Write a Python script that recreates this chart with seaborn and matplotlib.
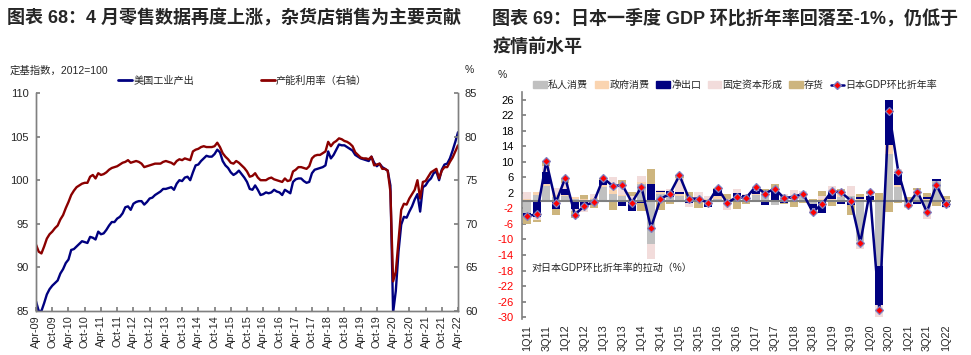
import numpy as np
import matplotlib
matplotlib.use("Agg")
import matplotlib.pyplot as plt
from matplotlib.lines import Line2D
from matplotlib.patches import Patch
import seaborn as sns

# ---- 图表68: US industrial production (left axis) & capacity utilisation (right axis), Apr-09 .. Apr-22
ip_index = [
    86.1, 85.0, 85.0, 85.9, 86.9, 87.5, 87.9, 88.2, 88.5,                      # 2009 Apr-Dec
    89.3, 89.8, 90.5, 90.9, 92.0, 92.1, 92.4, 92.7, 93.0, 92.9, 92.8, 93.5,    # 2010
    93.4, 93.2, 94.1, 93.8, 93.9, 94.3, 94.8, 95.2, 95.2, 95.6, 95.8, 96.2,    # 2011
    96.9, 97.0, 96.6, 97.3, 97.5, 97.6, 97.6, 97.2, 97.5, 97.9, 98.0, 98.3,    # 2012
    98.5, 98.7, 99.0, 99.0, 99.1, 99.2, 98.9, 99.6, 100.0, 99.9, 100.3, 100.4, # 2013
    100.0, 100.9, 101.7, 101.8, 102.2, 102.5, 102.8, 102.7, 102.7, 103.0, 103.5, 103.2,  # 2014
    102.2, 101.7, 101.4, 100.9, 100.6, 100.8, 101.1, 100.7, 100.3, 99.8, 99.0, 98.9,     # 2015
    99.4, 98.9, 98.3, 98.4, 98.6, 98.5, 98.6, 98.9, 98.7, 98.6, 98.3, 98.9,    # 2016
    98.7, 98.5, 99.8, 100.1, 100.2, 100.2, 99.9, 99.7, 99.8, 100.8, 101.2, 101.3,        # 2017
    101.4, 101.5, 101.7, 103.3, 102.5, 102.9, 103.5, 104.1, 104.0, 104.0, 103.8, 103.6,  # 2018
    103.4, 102.9, 102.7, 102.5, 102.4, 102.3, 102.2, 102.7, 102.0, 101.6, 101.9, 101.5,  # 2019
    101.3, 101.1, 99.4, 84.8, 87.3, 91.8, 94.9, 95.8, 95.7, 96.4, 97.0, 97.8,  # 2020
    98.4, 96.4, 99.2, 99.4, 99.9, 100.2, 100.8, 101.0, 100.0, 101.2, 101.8, 101.9,       # 2021
    102.5, 103.4, 104.4, 105.5,                                                # 2022 Jan-Apr
]
capacity_util = [
    67.6, 66.8, 66.6, 67.4, 68.3, 68.8, 69.1, 69.5, 69.8,
    70.5, 71.0, 71.8, 72.5, 73.3, 73.8, 74.2, 74.4, 74.6, 74.7, 74.7, 75.4,
    75.6, 75.2, 75.8, 75.6, 75.7, 75.9, 76.2, 76.4, 76.5, 76.6, 76.8, 77.0,
    77.1, 77.3, 77.0, 77.1, 77.2, 77.1, 76.9, 76.5, 76.6, 76.7, 76.8, 76.9,
    76.9, 76.9, 77.1, 77.2, 77.1, 77.0, 76.8, 77.2, 77.4, 77.3, 77.5, 77.4,
    77.3, 78.3, 78.5, 78.6, 78.8, 78.9, 78.8, 78.8, 78.8, 78.9, 79.3, 78.8,
    78.1, 77.7, 77.4, 77.0, 76.9, 77.2, 77.0, 76.7, 76.4, 76.0, 75.4, 75.5,
    75.8, 75.3, 75.0, 75.0, 75.0, 75.2, 75.3, 75.1, 75.0, 74.9, 74.8, 75.2,
    74.9, 75.0, 76.0, 76.2, 76.5, 76.5, 76.4, 76.3, 76.6, 77.5, 77.8, 77.9,
    77.9, 78.1, 78.3, 79.4, 78.9, 79.3, 79.5, 79.8, 79.7, 79.5, 79.4, 79.2,
    78.9, 78.2, 77.9, 77.6, 77.5, 77.5, 77.4, 77.7, 76.7, 76.8, 76.9, 76.3,
    76.3, 76.1, 73.7, 63.4, 64.5, 68.0, 71.6, 72.3, 72.2, 72.9, 73.4, 73.9,
    75.0, 72.9, 74.8, 74.9, 75.4, 75.9, 76.1, 76.3, 75.2, 76.1, 76.5, 76.5,
    77.1, 77.6, 78.3, 79.0,
]
month_ticks = [
    "Apr-09", "Oct-09", "Apr-10", "Oct-10", "Apr-11", "Oct-11", "Apr-12", "Oct-12",
    "Apr-13", "Oct-13", "Apr-14", "Oct-14", "Apr-15", "Oct-15", "Apr-16", "Oct-16",
    "Apr-17", "Oct-17", "Apr-18", "Oct-18", "Apr-19", "Oct-19", "Apr-20", "Oct-20",
    "Apr-21", "Oct-21", "Apr-22",
]

# ---- 图表69: contributions to Japan GDP q/q annualised, 1Q11 .. 1Q22
quarter_ticks = [
    "1Q11", "3Q11", "1Q12", "3Q12", "1Q13", "3Q13", "1Q14", "3Q14", "1Q15", "3Q15",
    "1Q16", "3Q16", "1Q17", "3Q17", "1Q18", "3Q18", "1Q19", "3Q19", "1Q20", "3Q20",
    "1Q21", "3Q21", "1Q22",
]
private_cons = [-3.3, 1.4, 3.8, 1.0, 1.2, 0.5, -0.3, 0.3, 3.6, 1.7, 1.2, 0.2, 4.3, -11.2, 1.8,
                0.8, 1.2, 0.4, 0.5, -1.0, 0.4, -0.3, 0.3, 0.6, 1.4, 1.4, -1.2, 1.1, -0.3, 1.0,
                -1.0, 0.2, 0.1, 1.0, 1.1, -10.5, -0.2, -16.8, 12.1, 3.5, -1.6, 1.0, -1.6, 5.0, -0.3]
gov_cons = [0.3, 0.8, 0.4, 0.4, 0.3, 0.4, 0.3, 0.4, 0.3, 0.9, 0.3, 0.2, 0.5, 0.2, 0.5,
            0.2, 0.5, 0.3, 0.3, 0.5, 0.8, 0.3, 0.2, 0.3, 0.3, 0.3, 0.1, 0.0, 0.3, 0.3,
            0.2, 0.3, 0.2, 0.6, 0.2, 0.3, 0.2, 0.2, 2.2, 0.5, -0.4, 0.6, 0.4, 0.1, 0.3]
net_exports = [-0.9, -4.3, 3.2, -2.1, 1.4, -2.2, -1.3, -0.3, 1.4, -0.2, -1.4, -2.6, -0.5, 4.0, 0.2,
               1.4, 0.5, -0.6, 0.2, -0.6, 1.8, -0.1, 1.5, 0.5, 0.7, -1.1, 2.3, -0.6, 0.6, 0.3,
               -1.0, -3.3, 2.1, -0.8, -1.2, 0.6, 1.0, -10.1, 11.5, 2.9, 0.2, -1.0, 0.6, 0.4, -1.3]
fixed_capital = [1.8, -0.6, 1.6, 1.8, 1.5, -0.5, -1.3, 0.9, -0.1, 3.4, 2.1, 0.8, 1.5, -3.9, 0.2,
                 0.5, 3.5, -1.0, 1.3, 0.6, 0.1, -2.0, 1.0, 0.3, 0.9, 0.5, 0.2, 0.5, 1.8, 0.8,
                 -1.2, 0.6, 1.3, 0.5, 2.4, -2.0, 0.5, -3.0, 0.0, 1.1, 0.0, 1.2, -3.2, -0.2, -0.4]
inventory = [-1.8, -0.6, 1.2, -1.6, 1.5, -1.9, 1.2, -1.6, 0.6, -2.1, 1.8, 0.9, -2.3, 4.0, -2.3,
             -1.0, 0.8, 1.4, -1.8, -0.1, 0.2, 1.5, -2.1, -1.0, 0.3, 0.7, 1.7, -0.4, -1.4, -0.7,
             0.1, 1.3, -1.3, 0.8, -2.5, 0.8, 0.7, 1.8, -2.9, -0.7, 0.6, 0.5, 0.9, -1.3, 0.8]
gdp_saar = [-4.0, -3.5, 10.1, -0.5, 5.8, -3.6, -1.4, -0.3, 5.8, 3.7, 4.0, -0.5, 3.5, -7.0, 0.4,
            1.8, 6.5, 0.5, 0.5, -0.6, 3.3, -0.6, 0.9, 0.7, 3.6, 1.8, 3.1, 0.6, 1.0, 1.7,
            -2.9, -0.9, 2.4, 2.1, 0.0, -10.8, 2.2, -28.1, 23.1, 7.3, -1.2, 2.3, -2.9, 4.0, -0.9]

NAVY = "#000080"
MAROON = "#8B0000"
GREY = "#808080"

sns.set_theme(style="white")
plt.rcParams["font.family"] = ["Liberation Sans", "Noto Sans CJK SC"]
plt.rcParams["axes.unicode_minus"] = False

fig = plt.figure(figsize=(9.71, 3.55), dpi=100)

# titles
fig.text(0.007, 0.949, "图表 68：4 月零售数据再度上涨，杂货店销售为主要贡献",
         fontsize=13, fontweight="bold", va="center")
fig.text(0.507, 0.949, "图表 69：日本一季度 GDP 环比折年率回落至-1%，仍低于",
         fontsize=13, fontweight="bold", va="center")
fig.text(0.507, 0.866, "疫情前水平", fontsize=13, fontweight="bold", va="center")

# ---------------- left chart ----------------
ax1 = fig.add_axes([0.0371, 0.124, 0.4346, 0.614])
months = np.arange(len(ip_index))
sns.lineplot(x=months, y=ip_index, ax=ax1, color=NAVY, linewidth=1.7)
ax1b = ax1.twinx()
sns.lineplot(x=months, y=capacity_util, ax=ax1b, color=MAROON, linewidth=1.7)

ax1.set_xlim(0, 156)
ax1.set_ylim(85, 110)
ax1b.set_ylim(60, 85)
ax1.set_yticks(range(85, 111, 5))
ax1b.set_yticks(range(60, 86, 5))
ax1.set_xticks(range(0, 157, 6))
ax1.set_xticklabels(month_ticks, rotation=90)
for a in (ax1, ax1b):
    a.set_xlabel("")
    a.set_ylabel("")
    a.spines["top"].set_visible(False)
    for s in ("left", "right", "bottom"):
        a.spines[s].set_color(GREY)
        a.spines[s].set_linewidth(1.0)
ax1.tick_params(axis="y", direction="in", length=3, color=GREY, labelsize=8, pad=5, left=True)
ax1.tick_params(axis="x", direction="in", length=3, color=GREY, labelsize=7.8, pad=3, bottom=True)
ax1b.tick_params(axis="y", direction="in", length=3, color=GREY, labelsize=8, pad=5, right=True)

fig.text(0.0103, 0.800, "定基指数，2012=100", fontsize=7.5, va="center")
fig.text(0.479, 0.803, "%", fontsize=7.5, va="center")
h1 = [Line2D([], [], color=NAVY, lw=2), Line2D([], [], color=MAROON, lw=2)]
fig.legend(h1, ["美国工业产出", "产能利用率（右轴）"], loc="center left",
           bbox_to_anchor=(0.1215, 0.772), ncol=2, frameon=False, fontsize=7.3,
           handlelength=1.4, handletextpad=0.1, columnspacing=6.6, borderpad=0,
           borderaxespad=0)

# ---------------- right chart ----------------
ax2 = fig.add_axes([0.5376, 0.101, 0.4415, 0.6406])
q = np.arange(len(gdp_saar))
parts = [
    ("私人消费", private_cons, "#C0C0C0"),
    ("政府消费", gov_cons, "#FAD4B0"),
    ("净出口", net_exports, "#000080"),
    ("固定资本形成", fixed_capital, "#F2DCDB"),
    ("存货", inventory, "#CDB57E"),
]
pos_base = np.zeros(len(q))
neg_base = np.zeros(len(q))
for name, vals, col in parts:
    v = np.array(vals)
    base = np.where(v >= 0, pos_base, neg_base)
    ax2.bar(q, v, bottom=base, width=0.86, color=col, linewidth=0, zorder=2)
    pos_base = pos_base + np.where(v >= 0, v, 0)
    neg_base = neg_base + np.where(v < 0, v, 0)

ax2.axhline(0, color=GREY, lw=1.5, zorder=3)
sns.lineplot(x=q, y=gdp_saar, ax=ax2, color=NAVY, linewidth=1.8, marker="D",
             markersize=4.2, markerfacecolor="#FF0000", markeredgecolor="#8080C0",
             markeredgewidth=0.9, zorder=4)

ax2.set_xlim(-0.55, 44.5)
ax2.set_ylim(-30.5, 28)
ax2.set_yticks(range(26, -31, -4))
ax2.set_xticks(q[::2])
ax2.set_xticklabels(quarter_ticks, rotation=90)
ax2.set_xlabel("")
ax2.set_ylabel("")
for s in ("top", "right", "bottom"):
    ax2.spines[s].set_visible(False)
ax2.spines["left"].set_color(GREY)
ax2.spines["left"].set_linewidth(1.2)
ax2.tick_params(axis="y", direction="in", length=3, color=GREY, labelsize=8, pad=6, left=True)
ax2.tick_params(axis="x", length=0, labelsize=7.8, pad=4)
for lab, val in zip(ax2.get_yticklabels(), range(26, -31, -4)):
    lab.set_color("#FF0000" if val < 0 else "black")

ax2.text(0.021, 0.225, "对日本GDP环比折年率的拉动（%）", transform=ax2.transAxes,
         fontsize=7.2, va="center")
fig.text(0.513, 0.789, "%", fontsize=7.5, va="center")

h2 = [Patch(color=c) for _, _, c in parts]
h2.append(Line2D([], [], color=NAVY, lw=1.8, marker="D", markersize=4,
                 markerfacecolor="#FF0000", markeredgecolor="#8080C0"))
fig.legend(h2, [p[0] for p in parts] + ["日本GDP环比折年率"], loc="center left",
           bbox_to_anchor=(0.549, 0.760), ncol=6, frameon=False, fontsize=7.2,
           handlelength=1.35, handleheight=0.7, handletextpad=0.15, columnspacing=0.65,
           borderpad=0, borderaxespad=0)

fig.savefig("out.png", dpi=100)
